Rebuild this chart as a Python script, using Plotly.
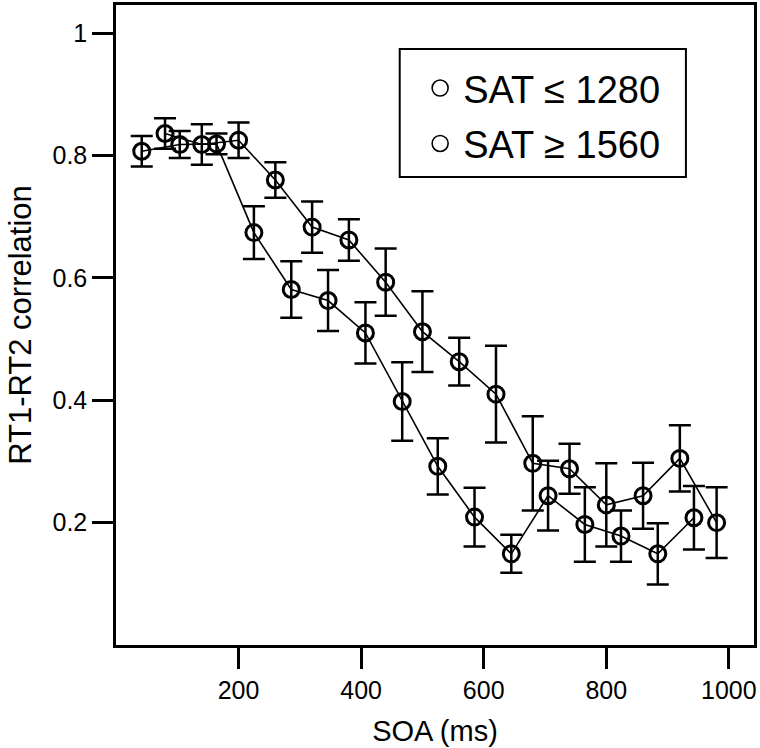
import plotly.graph_objects as go

# ---- data ----
soa_low_sat = [80, 140, 200, 260, 320, 380, 440, 500, 560, 620, 680, 740, 800, 860, 920, 980]
r_low_sat = [0.836, 0.818, 0.825, 0.760, 0.683, 0.662, 0.593, 0.512, 0.463, 0.410,
             0.297, 0.288, 0.229, 0.244, 0.305, 0.200]
err_low_sat = [0.025, 0.033, 0.029, 0.029, 0.042, 0.034, 0.055, 0.066, 0.039, 0.079,
               0.077, 0.041, 0.068, 0.054, 0.054, 0.058]

soa_high_sat = [42, 104, 164, 225, 286, 346, 407, 467, 525, 585, 645, 705, 765, 824, 884, 943]
r_high_sat = [0.807, 0.818, 0.819, 0.674, 0.581, 0.563, 0.510, 0.398, 0.292, 0.209,
              0.149, 0.244, 0.197, 0.178, 0.149, 0.208]
err_high_sat = [0.025, 0.022, 0.017, 0.043, 0.046, 0.050, 0.050, 0.064, 0.046, 0.048,
                0.031, 0.057, 0.061, 0.042, 0.050, 0.052]

legend_names = ["SAT \u2264 1280", "SAT \u2265 1560"]
y_tick_vals = [0.2, 0.4, 0.6, 0.8, 1.0]
y_tick_text = ["0.2", "0.4", "0.6", "0.8", "1"]
x_tick_vals = [200, 400, 600, 800, 1000]

FONT = "Liberation Sans, Arial, Helvetica, sans-serif"

fig = go.Figure()


def add_series(x, y, err):
    fig.add_trace(go.Scatter(
        x=x, y=y, mode="lines+markers", showlegend=False,
        line=dict(color="black", width=1.6),
        marker=dict(symbol="circle-open", size=16, color="black",
                    line=dict(width=3, color="black")),
        error_y=dict(type="data", array=err, visible=True,
                     color="black", thickness=2.5, width=11),
    ))


add_series(soa_low_sat, r_low_sat, err_low_sat)
add_series(soa_high_sat, r_high_sat, err_high_sat)

# legend entries (markers only, as in the reference)
for i, name in enumerate(legend_names):
    fig.add_trace(go.Scatter(
        x=[None], y=[None], mode="markers", name=name, legendgroup=f"g{i}",
        marker=dict(symbol="circle-open", size=16, color="black",
                    line=dict(width=1.6, color="black")),
    ))

fig.update_layout(
    width=760, height=748,
    margin=dict(l=116, r=6, t=5, b=103),
    paper_bgcolor="white", plot_bgcolor="white",
    font=dict(family=FONT, color="black"),
    showlegend=True,
    legend=dict(
        x=0.472, y=0.919, xanchor="left", yanchor="top",
        bgcolor="rgba(0,0,0,0)", borderwidth=0,
        font=dict(family=FONT, size=38, color="black"),
        tracegroupgap=3, itemwidth=36,
    ),
    shapes=[dict(type="rect", xref="paper", yref="paper",
                 x0=0.4447, x1=0.8933, y0=0.7313, y1=0.9313,
                 line=dict(color="black", width=2), fillcolor="rgba(0,0,0,0)")],
)

fig.update_xaxes(
    range=[0, 1041], tickvals=x_tick_vals, ticks="outside", ticklen=21,
    tickwidth=2.5, tickcolor="black", showline=True, linewidth=2.5,
    linecolor="black", mirror=True, showgrid=False, zeroline=False,
    automargin=False,
    tickfont=dict(size=25, family=FONT),
    title=dict(text="SOA (ms)", font=dict(size=29, family=FONT), standoff=18),
)
fig.update_yaxes(
    range=[0, 1.046], tickvals=y_tick_vals, ticktext=y_tick_text,
    ticks="outside", ticklen=21, tickwidth=2.5, tickcolor="black",
    showline=True, linewidth=2.5, linecolor="black", mirror=True,
    showgrid=False, zeroline=False, automargin=False,
    tickfont=dict(size=25, family=FONT),
    title=dict(text="RT1-RT2 correlation", font=dict(size=31, family=FONT), standoff=12),
)

fig.write_html("out.html", config={"displayModeBar": False},
               post_script="document.body.style.margin='0';document.body.style.padding='0';")
